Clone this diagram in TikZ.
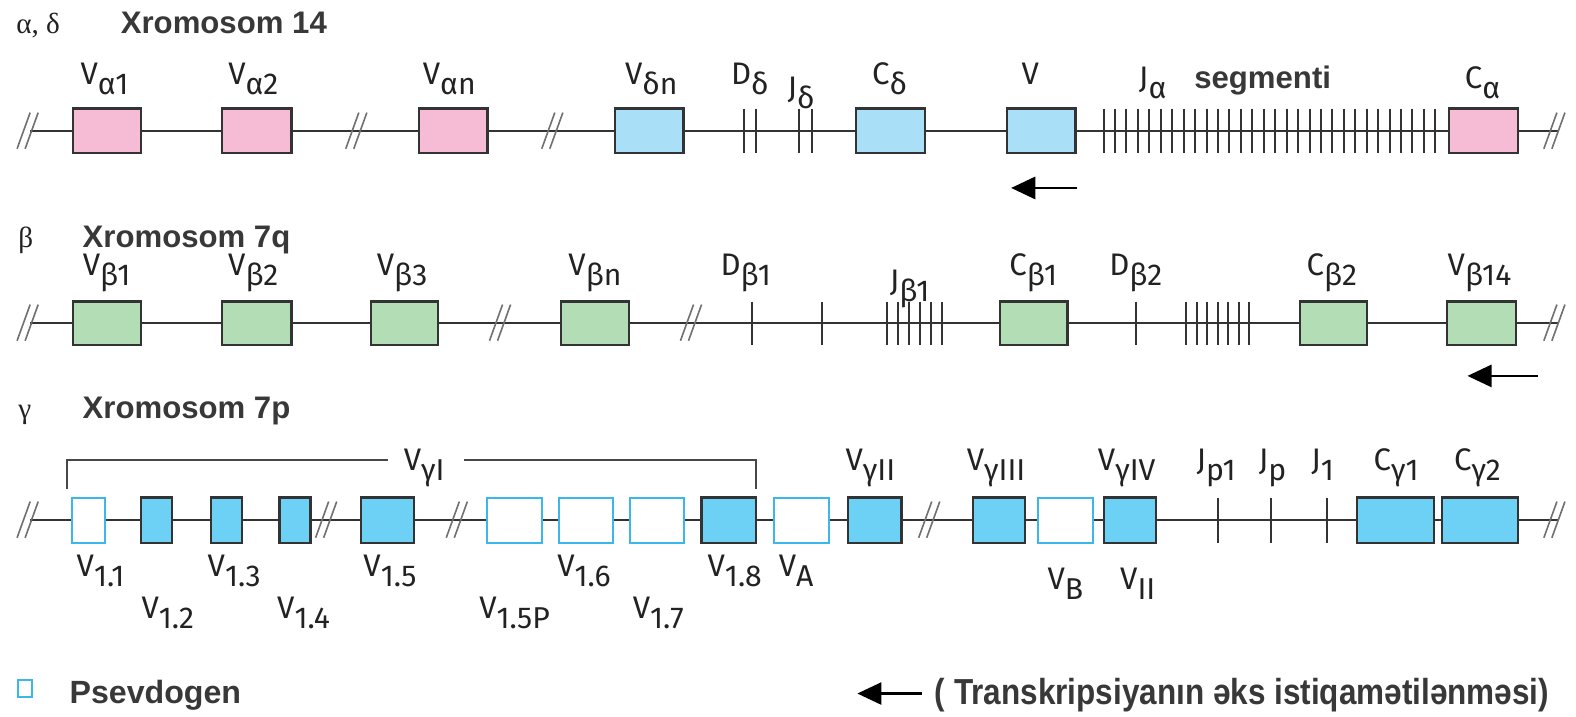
\documentclass[tikz,border=0pt]{standalone}
\usepackage{fontspec}
\usepackage{graphicx}
\setmainfont{Fira Sans}
\newfontfamily\titlef{Liberation Sans}
\newfontfamily\greekf{Liberation Serif}
\usetikzlibrary{arrows.meta}
\definecolor{pinkf}{HTML}{F7BCD5}
\definecolor{bluelf}{HTML}{A9E0F8}
\definecolor{greenf}{HTML}{B3DDB5}
\definecolor{cyanf}{HTML}{6DD0F5}
\definecolor{cyano}{HTML}{3BB7EC}
\definecolor{linec}{HTML}{333333}
\definecolor{textc}{HTML}{222222}
\newcommand{\gl}[2]{#1\raisebox{-10pt}{\fontsize{30}{32}\selectfont #2}}
\newcommand{\gb}[6]{\node[#1, minimum width={#4-#3}, minimum height={#6-#5}] (#2) at ({(#3+#4)/2},{(#5+#6)/2}) {};}
\newcommand{\brkmark}[2]{\draw[brkl] (#1-11,#2+18) -- (#1+2,#2-18) (#1-3,#2+18) -- (#1+10,#2-18);}
\tikzset{
  dna/.style={draw=linec, line width=1.7pt},
  tk/.style={draw=linec, line width=2pt},
  brkl/.style={draw=linec!70, line width=1.6pt},
  gbox/.style={draw=linec, line width=2.2pt, inner sep=0pt},
  pinkb/.style={gbox, fill=pinkf},
  blueb/.style={gbox, fill=bluelf},
  greenb/.style={gbox, fill=greenf},
  cyanb/.style={gbox, fill=cyanf},
  pseudo/.style={draw=cyano, line width=2pt, fill=white, inner sep=0pt},
  lab/.style={font=\fontsize{31}{34}\selectfont, text=textc, inner sep=0pt, anchor=base},
  ttl/.style={font=\titlef\bfseries\fontsize{31}{33}\selectfont, text=textc!90, inner sep=0pt, anchor=base west},
  gk/.style={font=\greekf\fontsize{29}{30}\selectfont, text=textc, inner sep=0pt, anchor=base west},
  arr/.style={-{Triangle[length=24pt,width=22pt]}, line width=2.5pt, black},
  brkt/.style={draw=linec!90, line width=2pt}
}
\begin{document}
\begin{tikzpicture}[x=1pt,y=-1pt]
\useasboundingbox (0,0) rectangle (1568,713);
% ---------- Row 1 ----------
\node[gk] (g1) at (16,33) {α, δ};
\node[ttl] (t1) at (120,33) {Xromosom 14};
\coordinate (r1s) at (30,130); \coordinate (r1e) at (1550,130);
\draw[dna] (r1s) -- (r1e);
\brkmark{28}{130}\brkmark{355}{130}\brkmark{550}{130}\brkmark{1547}{130}
\foreach \x in {740,752,795,808} \draw[tk] (\x,108) -- (\x,152);
\foreach \i in {0,...,29} \draw[tk] ({1098+\i*11.38},108) -- ++(0,44);
\gb{pinkb}{va1}{73}{140}{108}{152}
\gb{pinkb}{va2}{221}{290}{108}{152}
\gb{pinkb}{van}{417}{485}{108}{152}
\gb{blueb}{vdn}{612}{680}{108}{152}
\gb{blueb}{cd}{852}{920}{108}{152}
\gb{blueb}{vd}{1002}{1070}{108}{152}
\gb{pinkb}{ca}{1442}{1510}{108}{152}
\node[lab] (lva1) at (104,84) {\gl{V}{α1}};
\node[lab] (lva2) at (252,84) {\gl{V}{α2}};
\node[lab] (lvan) at (447,84) {\gl{V}{αn}};
\node[lab] (lvdn) at (648,84) {\gl{V}{δn}};
\node[lab] (ldd) at (746,84) {\gl{D}{δ}};
\node[lab] (ljd) at (797,98) {\gl{J}{δ}};
\node[lab] (lcd) at (885,84) {\gl{C}{δ}};
\node[lab] (lvd) at (1025,84) {V};
\node[lab, anchor=base west] (lja) at (1133,88) {\gl{J}{α}};
\node[ttl] (lseg) at (1188,88) {segmenti};
\node[lab] (lca) at (1475,88) {\gl{C}{α}};
\coordinate (a1s) at (1072,187); \coordinate (a1e) at (1006,187);
\draw[arr] (a1s) -- (a1e);
% ---------- Row 2 ----------
\node[gk] (g2) at (18,246) {β};
\node[ttl] (t2) at (82,246) {Xromosom 7q};
\coordinate (r2s) at (30,321); \coordinate (r2e) at (1550,321);
\draw[dna] (r2s) -- (r2e);
\brkmark{28}{321}\brkmark{498}{321}\brkmark{688}{321}\brkmark{1547}{321}
\foreach \x in {748,818,1130} \draw[tk] (\x,300) -- (\x,343);
\foreach \x in {882,893,904,915,926,937} \draw[tk] (\x,300) -- (\x,343);
\foreach \x in {1180,1190.5,1201,1211.5,1222,1232.5,1243} \draw[tk] (\x,300) -- (\x,343);
\gb{greenb}{vb1}{73}{140}{300}{343}
\gb{greenb}{vb2}{221}{290}{300}{343}
\gb{greenb}{vb3}{369}{436}{300}{343}
\gb{greenb}{vbn}{558}{626}{300}{343}
\gb{greenb}{cb1}{995}{1062}{300}{343}
\gb{greenb}{cb2}{1293}{1360}{300}{343}
\gb{greenb}{vb14}{1440}{1508}{300}{343}
\node[lab] (lvb1) at (106,274) {\gl{V}{β1}};
\node[lab] (lvb2) at (252,274) {\gl{V}{β2}};
\node[lab] (lvb3) at (400,274) {\gl{V}{β3}};
\node[lab] (lvbn) at (592,274) {\gl{V}{βn}};
\node[lab] (ldb1) at (742,274) {\gl{D}{β1}};
\node[lab] (ljb1) at (905,290) {\gl{J}{β1}};
\node[lab] (lcb1) at (1028,274) {\gl{C}{β1}};
\node[lab] (ldb2) at (1130,274) {\gl{D}{β2}};
\node[lab] (lcb2) at (1325,274) {\gl{C}{β2}};
\node[lab] (lvb14) at (1472,274) {\gl{V}{β14}};
\coordinate (a2s) at (1530,374); \coordinate (a2e) at (1460,374);
\draw[arr] (a2s) -- (a2e);
% ---------- Row 3 ----------
\node[gk] (g3) at (18,416) {γ};
\node[ttl] (t3) at (82,416) {Xromosom 7p};
\coordinate (b1) at (67,487); \coordinate (b2) at (67,458); \coordinate (b3) at (386,458);
\coordinate (b4) at (462,458); \coordinate (b5) at (752,458); \coordinate (b6) at (752,487);
\draw[brkt] (b1) -- (b2) -- (b3);
\draw[brkt] (b4) -- (b5) -- (b6);
\coordinate (r3s) at (30,517); \coordinate (r3e) at (1550,517);
\draw[dna] (r3s) -- (r3e);
\brkmark{28}{517}\brkmark{325}{517}\brkmark{455}{517}\brkmark{925}{517}\brkmark{1547}{517}
\foreach \x in {1212,1265,1320} \draw[tk] (\x,495) -- (\x,540);
\gb{pseudo}{v11}{72}{104}{495}{540}
\gb{cyanb}{v12}{140}{171}{495}{540}
\gb{cyanb}{v13}{210}{241}{495}{540}
\gb{cyanb}{v14}{278}{309}{495}{540}
\gb{cyanb}{v15}{359}{412}{495}{540}
\gb{pseudo}{v15p}{485}{539}{495}{540}
\gb{pseudo}{v16}{556}{610}{495}{540}
\gb{pseudo}{v17}{627}{681}{495}{540}
\gb{cyanb}{v18}{698}{752}{495}{540}
\gb{pseudo}{vA}{770}{825}{495}{540}
\gb{cyanb}{vg2}{844}{897}{495}{540}
\gb{cyanb}{vg3}{968}{1020}{495}{540}
\gb{pseudo}{vB}{1033}{1087}{495}{540}
\gb{cyanb}{vg4}{1098}{1150}{495}{540}
\gb{cyanb}{cg1}{1350}{1427}{495}{540}
\gb{cyanb}{cg2}{1435}{1510}{495}{540}
\node[lab] (lvg1) at (422,468) {\gl{V}{γI}};
\node[lab] (lvg2) at (866,468) {\gl{V}{γII}};
\node[lab] (lvg3) at (991,468) {\gl{V}{γIII}};
\node[lab] (lvg4) at (1121,468) {\gl{V}{γIV}};
\node[lab] (ljp1) at (1210,468) {\gl{J}{p1}};
\node[lab] (ljp) at (1266,468) {\gl{J}{p}};
\node[lab] (lj1) at (1316,468) {\gl{J}{1}};
\node[lab] (lcg1) at (1389,468) {\gl{C}{γ1}};
\node[lab] (lcg2) at (1470,468) {\gl{C}{γ2}};
\node[lab] (l11) at (100,574) {\gl{V}{1.1}};
\node[lab] (l12) at (167,615) {\gl{V}{1.2}};
\node[lab] (l13) at (233,574) {\gl{V}{1.3}};
\node[lab] (l14) at (302,615) {\gl{V}{1.4}};
\node[lab] (l15) at (388,574) {\gl{V}{1.5}};
\node[lab] (l15p) at (512,615) {\gl{V}{1.5P}};
\node[lab] (l16) at (581,574) {\gl{V}{1.6}};
\node[lab] (l17) at (655,615) {\gl{V}{1.7}};
\node[lab] (l18) at (731,574) {\gl{V}{1.8}};
\node[lab] (lA) at (792,574) {\gl{V}{A}};
\node[lab] (lB) at (1060,586) {\gl{V}{B}};
\node[lab] (lII) at (1132,586) {\gl{V}{II}};
% ---------- Legend ----------
\node[pseudo, minimum width=14, minimum height=17] (legbox) at (25,685) {};
\node[ttl, font=\titlef\bfseries\fontsize{32}{34}\selectfont] (legps) at (69,700) {Psevdogen};
\coordinate (a3s) at (917,690); \coordinate (a3e) at (853,690);
\draw[arr] (a3s) -- (a3e);
\node[ttl, font=\titlef\bfseries\fontsize{36}{38}\selectfont] (legtr) at (930,701) {\scalebox{0.87}[1]{( Transkripsiyanın əks istiqamətilənməsi)}};
\end{tikzpicture}
\end{document}
